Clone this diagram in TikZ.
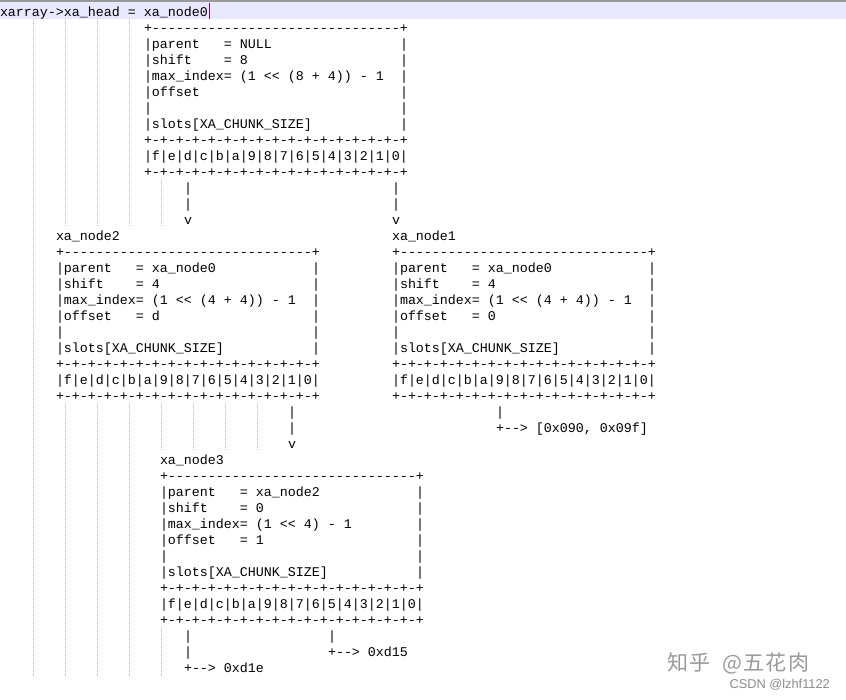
\documentclass[tikz,border=0pt]{standalone}
\usepackage{fontspec}
\setmonofont{Liberation Mono}
\newfontfamily\cjkfont{Noto Sans CJK SC}[LetterSpace=6]
\newfontfamily\markfont{Liberation Sans}

\definecolor{linehl}{RGB}{232,232,255}
\definecolor{caret}{RGB}{128,0,200}
\definecolor{guidegray}{RGB}{185,185,185}

\tikzset{
  txt/.style={anchor=base west, inner sep=0pt, outer sep=0pt, font=\ttfamily\fontsize{13.33}{16}\selectfont},
  guide/.style={line width=1pt, color=guidegray, dash pattern=on 1pt off 1pt},
}

% one row of the listing: name, column, line, text
\def\txtrow[#1](#2,#3)#4{\node[txt] (#1) at ({(#2)*8},{16.5+16*(#3)}) {#4};}

% one xa_node box: name, column, top line, parent, shift, max_index, offset
\newcommand{\xabox}[7]{%
  \txtrow[#1-top](#2,#3){+-------------------------------+}
  \txtrow[#1-parent](#2,#3+1){|parent~~~=~#4}
  \txtrow[#1-shift](#2,#3+2){|shift~~~~=~#5}
  \txtrow[#1-max](#2,#3+3){|max\_index=~#6}
  \txtrow[#1-offset](#2,#3+4){|offset#7}
  \txtrow[#1-blank](#2,#3+5){|}
  \txtrow[#1-slots](#2,#3+6){|slots[XA\_CHUNK\_SIZE]}
  \foreach \k in {1,...,6} {\txtrow[#1-bar\k](#2+32,#3+\k){|}}
  \txtrow[#1-sep](#2,#3+7){+-+-+-+-+-+-+-+-+-+-+-+-+-+-+-+-+}
  \txtrow[#1-cells](#2,#3+8){|f|e|d|c|b|a|9|8|7|6|5|4|3|2|1|0|}
  \txtrow[#1-bot](#2,#3+9){+-+-+-+-+-+-+-+-+-+-+-+-+-+-+-+-+}
}

\begin{document}
\begin{tikzpicture}[x=1pt,y=-1pt]
	%%%%% START %%%%%
	\useasboundingbox (0,0) rectangle (846,700);
	\fill[white] (0,0) rectangle (846,700);
	
	% editor line highlight
	\fill[black!40] (0,0) rectangle (846,2);
	\fill[linehl] (0,2) rectangle (846,19);
	
	% indent guides
	\draw[guide] (33,19) -- (33,676);
	\foreach \gx in {65,97,129} {\draw[guide] (\gx,19) -- (\gx,227); \draw[guide] (\gx,403) -- (\gx,676);}
	\draw[guide] (161,179) -- (161,227);
	\draw[guide] (161,403) -- (161,451);
	\draw[guide] (161,627) -- (161,676);
	\foreach \gx in {193,225,257} \draw[guide] (\gx,403) -- (\gx,451);
	
	\txtrow[head](0,0){xarray->xa\_head~=~xa\_node0}
	\draw[caret, line width=1pt] (209,3) -- (209,19);
	
	% xa_node0
	\xabox{nodezero}{18}{1}{NULL}{8}{(1~<<~(8~+~4))~-~1}{}
	\txtrow[zero-d1](23,11){|}
	\txtrow[zero-d2](23,12){|}
	\txtrow[zero-dv](23,13){v}
	\txtrow[zero-z1](49,11){|}
	\txtrow[zero-z2](49,12){|}
	\txtrow[zero-zv](49,13){v}
	
	% xa_node2 and xa_node1
	\txtrow[lbltwo](7,14){xa\_node2}
	\xabox{nodetwo}{7}{15}{xa\_node0}{4}{(1~<<~(4~+~4))~-~1}{~~~=~d}
	\txtrow[lblone](49,14){xa\_node1}
	\xabox{nodeone}{49}{15}{xa\_node0}{4}{(1~<<~(4~+~4))~-~1}{~~~=~0}
	
	\txtrow[two-o1](36,25){|}
	\txtrow[two-o2](36,26){|}
	\txtrow[two-ov](36,27){v}
	\txtrow[one-n1](62,25){|}
	\txtrow[one-n2](62,26){+-->~[0x090,~0x09f]}
	
	% xa_node3
	\txtrow[lblthree](20,28){xa\_node3}
	\xabox{nodethree}{20}{29}{xa\_node2}{0}{(1~<<~4)~-~1}{~~~=~1}
	
	\txtrow[three-e1](23,39){|}
	\txtrow[three-e2](23,40){|}
	\txtrow[three-e3](23,41){+-->~0xd1e}
	\txtrow[three-f1](41,39){|}
	\txtrow[three-f2](41,40){+-->~0xd15}
	
	% watermark
	\node[font=\cjkfont\fontsize{21}{21}\selectfont, text=black!40, anchor=west, inner sep=0pt] (zhihu) at (667,663) {知乎\hspace{12pt}@五花肉};
	\node[font=\markfont\fontsize{12.8}{13}\selectfont, text=black!45, anchor=east, inner sep=0pt] (csdn) at (830,685) {CSDN @lzhf1122};
	%%%%% END %%%%%
\end{tikzpicture}
\end{document}
